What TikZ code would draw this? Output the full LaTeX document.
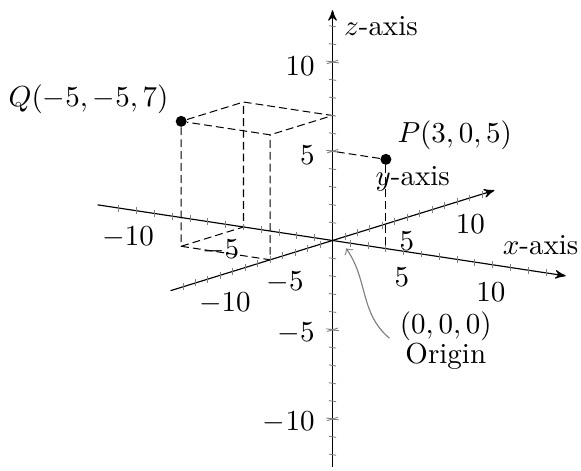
\documentclass[tikz,border=0pt]{standalone}
\usepackage{amsmath}
\usepackage{tikz}
\usetikzlibrary{arrows}
\usetikzlibrary{calc}
\tikzset{
  axisline/.style={black, ->, >=stealth'},
  tickline/.style={gray, line width=0.3pt},
  dashline/.style={black, dash pattern=on 2.7pt off 1.4pt, line width=0.35pt},
  dotnode/.style={circle, fill=black, inner sep=0, minimum size=3.8pt},
  lab/.style={inner sep=0},
}

\begin{document}
\begin{tikzpicture}[x={(6.141pt,-0.932pt)}, y={(4.299pt,1.332pt)}, z={(0pt,6.158pt)}]
\useasboundingbox (-114.71pt,-79.18pt) rectangle (85.73pt,82.97pt);
\coordinate (O) at (0,0,0);
\coordinate (xmin) at (-13.2,0,0);
\coordinate (xmax) at (13.1,0,0);
\coordinate (ymin) at (0,-13,0);
\coordinate (ymax) at (0,13,0);
\coordinate (zmin) at (0,0,-12.7);
\coordinate (zmax) at (0,0,12.9);
% points and their boxes
\node[dotnode] (P) at (3,0,5) {};
\node[dotnode] (Q) at (-5,-5,7) {};
\coordinate (Pz) at (0,0,5);
\coordinate (Px) at (3,0,0);
\coordinate (Qa) at (-5,0,7);
\coordinate (Qb) at (0,0,7);
\coordinate (Qc) at (0,-5,7);
\coordinate (Qd) at (-5,-5,0);
\coordinate (Qe) at (-5,0,0);
\coordinate (Qf) at (0,-5,0);
\draw[dashline] (P) -- (Pz);
\draw[dashline] (P) -- (Px);
\draw[dashline] (Q) -- (Qa) -- (Qb) -- (Qc) -- (Q);
\draw[dashline] (Q) -- (Qd) -- (Qe) -- (Qa);
\draw[dashline] (Qd) -- (Qf) -- (Qc);
% axes
\draw[axisline] (xmin) -- (xmax);
\draw[axisline] (ymin) -- (ymax);
\draw[axisline] (zmin) -- (zmax);
\foreach \t in {-12,-11,...,-1,1,2,...,12} {
 \draw[tickline] (\t,0,0) ++(0pt,-1.2pt) --++(0pt,2.4pt);
 \draw[tickline] (0,\t,0) ++(0pt,-1.2pt) --++(0pt,2.4pt);
 \draw[tickline] (-0.2,0,\t) -- (0.2,0,\t);
}
\foreach \t in {-10,-5,5,10} {
 \draw[tickline] (-0.35,0,\t) -- (0.35,0,\t);
 \draw[tickline] (0,-0.45,\t) -- (0,0.45,\t);
}
\foreach \v/\dx/\dy in {-10/-9.1/-8.3, -5/-7.9/-8.2, 5/-6.8/-8.1, 10/-6.8/-8.35}
 \node[lab, xshift=\dx pt, yshift=\dy pt] (xt\v) at (\v,0,0) {$\v$};
\foreach \v/\dx/\dy in {-10/5.87/-8.28, -5/5.1/-7.9, 5/4.2/-6.76, 10/4.55/-7.69}
 \node[lab, xshift=\dx pt, yshift=\dy pt] (yt\v) at (0,\v,0) {$\v$};
\foreach \v in {-10,-5,5,10}
 \node[lab, anchor=east, xshift=-6pt, yshift=-1.3pt] (zt\v) at (0,0,\v) {$\v$};
% labels
\node[lab, anchor=base west] (xlab) at ([shift={(-21.9pt,7.21pt)}]xmax) {$x$-axis};
\node[lab, anchor=base west] (ylab) at ([shift={(-41.2pt,1.73pt)}]ymax) {$y$-axis};
\node[lab, anchor=base west] (zlab) at ([shift={(3.8pt,-8.8pt)}]zmax) {$z$-axis};
\node[lab, anchor=base west] (Plab) at ([shift={(3.8pt,5.74pt)}]P) {$P(3,0,5)$};
\node[lab, anchor=base east] (Qlab) at ([shift={(-4.2pt,5.28pt)}]Q) {$Q(-5,-5,7)$};
\node[lab, anchor=base] (zero) at (39.09pt,-32.02pt) {$(0,0,0)$};
\node[lab, anchor=base] (origtxt) at ([yshift=-10.35pt]zero.base) {Origin};
\coordinate (Otip) at (4.66pt,-2.69pt);
\draw[gray, ->] ([shift={(-3.4pt,-1.7pt)}]zero.base west) to[out=140, in=-55] (Otip);
\end{tikzpicture}
\end{document}
